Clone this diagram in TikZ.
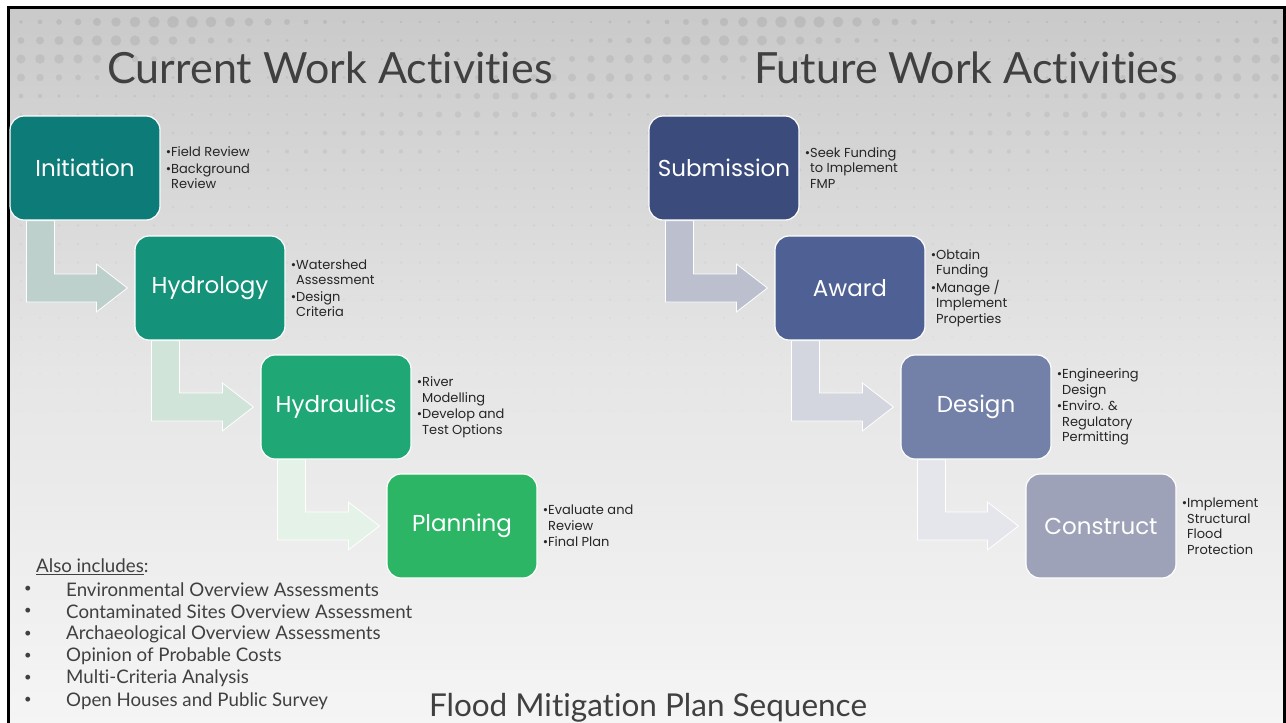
\documentclass[tikz,border=0pt]{standalone}
\usepackage{fontspec}
\setmainfont{Lato}[Ligatures = {NoCommon, NoRequired}]
\newfontfamily\stagefont{Poppins}
\usetikzlibrary{calc}

% Stage colours, left column (green) and right column (blue)
\definecolor{InitFill}{HTML}{0D7B77}
\definecolor{HydroFill}{HTML}{14937A}
\definecolor{HydraFill}{HTML}{1FA775}
\definecolor{PlanFill}{HTML}{2DB566}
\definecolor{SubFill}{HTML}{3A4B7C}
\definecolor{AwardFill}{HTML}{4F6094}
\definecolor{DesignFill}{HTML}{7381A8}
\definecolor{BuildFill}{HTML}{9EA2B8}
% Bent arrows fade out towards the bottom
\definecolor{GreenArrowA}{HTML}{BDD0CC}
\definecolor{GreenArrowB}{HTML}{D0E4DA}
\definecolor{GreenArrowC}{HTML}{E4F2E8}
\definecolor{BlueArrowA}{HTML}{BCBFCD}
\definecolor{BlueArrowB}{HTML}{D4D6DF}
\definecolor{BlueArrowC}{HTML}{E5E6EB}
\definecolor{TitleGrey}{HTML}{404040}

\pgfdeclarelayer{slide}
\pgfdeclarelayer{arrows}
\pgfsetlayers{slide,arrows,main}

\tikzset{
    stage/.style = {
        draw = white, line width = 1.2pt,
        rounded corners = 14pt,
        minimum width = 150pt, minimum height = 104pt,
        text = white, inner sep = 0pt,
        font = \stagefont\fontsize{23}{27}\selectfont
    },
    notes/.style = {
        anchor = west, align = left, inner sep = 0pt,
        text = black!85,
        font = \stagefont\fontsize{13}{15.5}\selectfont
    },
    heading/.style = {
        text = TitleGrey, inner sep = 0pt,
        font = \fontsize{43}{48}\selectfont
    },
    listtext/.style = {
        anchor = west, inner sep = 0pt, text = TitleGrey,
        font = \fontsize{18.7}{22}\selectfont
    }
}

% L-shaped arrow hanging off the bottom of #1 and pointing into #2
\newcommand{\bentarrow}[3]{%
    \fill[#3, draw = white, line width = 0.8pt]
        ($(#1.south west)+(17,0)$) |- ($(#2.west)+(-38,14)$)
        -- ++(0,10) -- ($(#2.west)+(-7,0)$) -- ($(#2.west)+(-38,-24)$)
        -- ++(0,10) -| ($(#1.south west)+(45,0)$) -- cycle;
}

\begin{document}
\begin{tikzpicture}[x = 1pt, y = -1pt]
    \useasboundingbox (0,0) rectangle (1286,723);

    % Slide background, frame and dot pattern.
    \begin{pgfonlayer}{slide}
        \fill[white] (0,0) rectangle (1286,723);
        \shade[top color = black!21, bottom color = black!4, middle color = black!10]
            (8,8) rectangle (1285,723);
        \begin{scope}
            \clip (9,9) rectangle (1284,723);
            \foreach \row in {0,...,21} {
                \foreach \col in {0,...,66} {
                    \pgfmathsetmacro\rad{1.4 + 4.4*max(0,1-\row/9)*(0.5+0.5*sin(\col*11+\row*37))^3}
                    \pgfmathsetmacro\op{0.07*(1-\row/24)}
                    \fill[black, opacity = \op] (21+\col*19, 22+\row*18.5) circle (\rad);
                }
            }
        \end{scope}
        \draw[black, line width = 3pt] (8,7.5) rectangle (1284.5,740);
    \end{pgfonlayer}

    % Section titles.
    \node[heading] (CurTitle) at (330,68) {Current Work Activities};
    \node[heading] (FutTitle) at (966,68) {Future Work Activities};
    \node[text = TitleGrey, inner sep = 0pt, anchor = base, font = \fontsize{31.5}{36}\selectfont]
        (SeqTitle) at (648,716) {Flood Mitigation Plan Sequence};

    % Current work stages.
    \node[stage, fill = InitFill] (Initiation) at (85,168) {Initiation};
    \node[stage, fill = HydroFill] (Hydrology) at (210,288) {Hydrology};
    \node[stage, fill = HydraFill] (Hydraulics) at (336,407) {Hydraulics};
    \node[stage, fill = PlanFill] (Planning) at (462,526) {Planning};

    % Future work stages.
    \node[stage, fill = SubFill] (Submission) at (724,168) {Submission};
    \node[stage, fill = AwardFill] (Award) at (850,288) {Award};
    \node[stage, fill = DesignFill] (Design) at (976,407) {Design};
    \node[stage, fill = BuildFill] (Construct) at (1101,526) {Construct};

    % Bullet notes beside each stage.
    \node[notes] (InitNotes) at ([xshift = 5pt]Initiation.east)
        {\textbullet Field Review\\[1pt]\textbullet Background\\\hphantom{\textbullet}Review};
    \node[notes] (HydroNotes) at ([xshift = 5pt]Hydrology.east)
        {\textbullet Watershed\\\hphantom{\textbullet}Assessment\\[1pt]\textbullet Design\\\hphantom{\textbullet}Criteria};
    \node[notes] (HydraNotes) at ([xshift = 5pt]Hydraulics.east)
        {\textbullet River\\\hphantom{\textbullet}Modelling\\[1pt]\textbullet Develop and\\\hphantom{\textbullet}Test Options};
    \node[notes] (PlanNotes) at ([xshift = 5pt]Planning.east)
        {\textbullet Evaluate and\\\hphantom{\textbullet}Review\\[1pt]\textbullet Final Plan};
    \node[notes] (SubNotes) at ([xshift = 5pt]Submission.east)
        {\textbullet Seek Funding\\\hphantom{\textbullet}to Implement\\\hphantom{\textbullet}FMP};
    \node[notes] (AwardNotes) at ([xshift = 5pt]Award.east)
        {\textbullet Obtain\\\hphantom{\textbullet}Funding\\[1pt]\textbullet Manage /\\\hphantom{\textbullet}Implement\\\hphantom{\textbullet}Properties};
    \node[notes] (DesignNotes) at ([xshift = 5pt]Design.east)
        {\textbullet Engineering\\\hphantom{\textbullet}Design\\[1pt]\textbullet Enviro. \&\\\hphantom{\textbullet}Regulatory\\\hphantom{\textbullet}Permitting};
    \node[notes] (BuildNotes) at ([xshift = 5pt]Construct.east)
        {\textbullet Implement\\\hphantom{\textbullet}Structural\\\hphantom{\textbullet}Flood\\\hphantom{\textbullet}Protection};

    % Bent arrows between the stages.
    \begin{pgfonlayer}{arrows}
        \bentarrow{Initiation}{Hydrology}{GreenArrowA}
        \bentarrow{Hydrology}{Hydraulics}{GreenArrowB}
        \bentarrow{Hydraulics}{Planning}{GreenArrowC}
        \bentarrow{Submission}{Award}{BlueArrowA}
        \bentarrow{Award}{Design}{BlueArrowB}
        \bentarrow{Design}{Construct}{BlueArrowC}
    \end{pgfonlayer}

    % Extra items done alongside the plan.
    \node[listtext] (AlsoHead) at (36,567) {\underline{Also includes}:};
    \foreach \item [count = \i] in {Environmental Overview Assessments,
            Contaminated Sites Overview Assessment, Archaeological Overview Assessments,
            Opinion of Probable Costs, Multi-Criteria Analysis, Open Houses and Public Survey} {
        \node[listtext, font = \fontsize{13}{15}\selectfont] (AlsoBul-\i) at (24,567+22.3*\i) {\textbullet};
        \node[listtext] (Also-\i) at (66,567+22.3*\i) {\item};
    }
\end{tikzpicture}
\end{document}
